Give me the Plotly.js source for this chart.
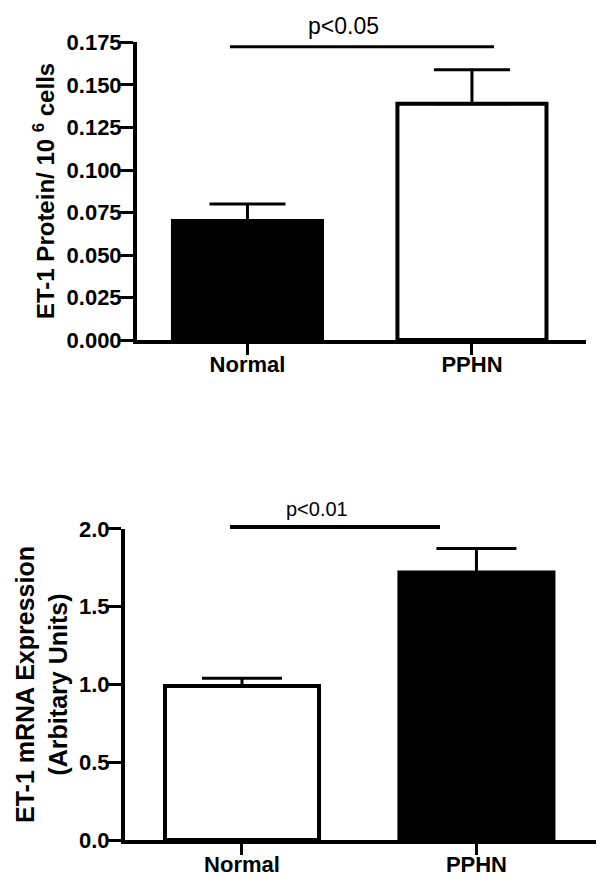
<!DOCTYPE html>
<html>
<head>
<meta charset="utf-8">
<script src="https://cdn.plot.ly/plotly-3.0.1.min.js"></script>
<style>
  html, body { margin: 0; padding: 0; background: #fff; }
  #plotArea { width: 606px; height: 885px; }
</style>
</head>
<body>
<div id="plotArea"></div>
<script>
// groups on the x axis
var groups = ['Normal', 'PPHN'];

// top panel: ET-1 protein per 10^6 cells
var proteinMean = [0.070, 0.139];
var proteinSem = [0.010, 0.020];
var proteinColors = ['black', 'white'];
var proteinTicks = [0, 0.025, 0.05, 0.075, 0.1, 0.125, 0.15, 0.175];
var proteinTickText = ['0.000', '0.025', '0.050', '0.075', '0.100', '0.125', '0.150', '0.175'];

// bottom panel: ET-1 mRNA expression
var mrnaMean = [0.99, 1.72];
var mrnaSem = [0.05, 0.155];
var mrnaColors = ['white', 'black'];
var mrnaTicks = [0, 0.5, 1.0, 1.5, 2.0];
var mrnaTickText = ['0.0', '0.5', '1.0', '1.5', '2.0'];

var FONT = 'Liberation Sans, Arial, Helvetica, sans-serif';

var proteinBars = {
    x: groups,
    y: proteinMean,
    type: 'bar',
    width: 0.664,
    marker: {color: proteinColors, line: {color: 'black', width: 4}},
    error_y: {type: 'data', symmetric: false, array: proteinSem, arrayminus: [0, 0],
              color: 'black', thickness: 3, width: 38},
    xaxis: 'x', yaxis: 'y',
    hoverinfo: 'none'
};

var mrnaBars = {
    x: groups,
    y: mrnaMean,
    type: 'bar',
    width: 0.657,
    marker: {color: mrnaColors, line: {color: 'black', width: 4}},
    error_y: {type: 'data', symmetric: false, array: mrnaSem, arrayminus: [0, 0],
              color: 'black', thickness: 3, width: 40},
    xaxis: 'x2', yaxis: 'y2',
    hoverinfo: 'none'
};

var xStyle = {
    type: 'category',
    showline: true, linecolor: 'black', linewidth: 4,
    ticks: 'outside', ticklen: 11, tickwidth: 3, tickcolor: 'black',
    ticklabelstandoff: -9,
    tickfont: {family: FONT, size: 22, color: 'black', weight: 'bold'},
    showgrid: false, zeroline: false, fixedrange: true
};
var yStyle = {
    showline: true, linecolor: 'black', linewidth: 4,
    ticks: 'outside', ticklen: 13, tickwidth: 3, tickcolor: 'black',
    ticklabelstandoff: -6,
    tickfont: {family: FONT, size: 22, color: 'black', weight: 'bold'},
    tickmode: 'array',
    showgrid: false, zeroline: false, fixedrange: true
};

var layout = {
    width: 606, height: 885,
    margin: {l: 0, r: 0, t: 0, b: 0},
    paper_bgcolor: 'white', plot_bgcolor: 'white',
    showlegend: false,
    xaxis: Object.assign({}, xStyle, {domain: [0.2261, 0.967], range: [-0.492, 1.508], anchor: 'y'}),
    yaxis: Object.assign({}, yStyle, {domain: [0.6158, 0.952], range: [0, 0.175], anchor: 'x',
        tickvals: proteinTicks, ticktext: proteinTickText}),
    xaxis2: Object.assign({}, xStyle, {domain: [0.2063, 0.9835], range: [-0.499, 1.51], anchor: 'y2'}),
    yaxis2: Object.assign({}, yStyle, {domain: [0.0508, 0.4023], range: [0, 2], anchor: 'x2',
        tickvals: mrnaTicks, ticktext: mrnaTickText}),
    shapes: [
        {type: 'line', xref: 'paper', yref: 'paper', x0: 230 / 606, x1: 494 / 606,
         y0: 0.9472, y1: 0.9472, line: {color: 'black', width: 3}},
        {type: 'line', xref: 'paper', yref: 'paper', x0: 230 / 606, x1: 440 / 606,
         y0: 0.4045, y1: 0.4045, line: {color: 'black', width: 4}}
    ],
    annotations: [
        {text: 'p<0.05', xref: 'paper', yref: 'paper', x: 343 / 606, y: 0.9706,
         xanchor: 'center', yanchor: 'middle', showarrow: false,
         font: {family: FONT, size: 23, color: 'black'}},
        {text: 'p<0.01', xref: 'paper', yref: 'paper', x: 317 / 606, y: 0.4249,
         xanchor: 'center', yanchor: 'middle', showarrow: false,
         font: {family: FONT, size: 20, color: 'black'}},
        {text: 'ET-1 Protein/ 10 <sup>6</sup> cells', xref: 'paper', yref: 'paper',
         x: 44 / 606, y: 0.7842, textangle: -90, xanchor: 'center', yanchor: 'middle',
         showarrow: false, font: {family: FONT, size: 24, color: 'black', weight: 'bold'}},
        {text: 'ET-1 mRNA Expression<br>(Arbitary Units)', xref: 'paper', yref: 'paper',
         x: 42 / 606, y: 0.226, textangle: -90, xanchor: 'center', yanchor: 'middle',
         showarrow: false, font: {family: FONT, size: 25, color: 'black', weight: 'bold'}}
    ]
};

Plotly.newPlot('plotArea', [proteinBars, mrnaBars], layout, {staticPlot: true});
</script>
</body>
</html>
